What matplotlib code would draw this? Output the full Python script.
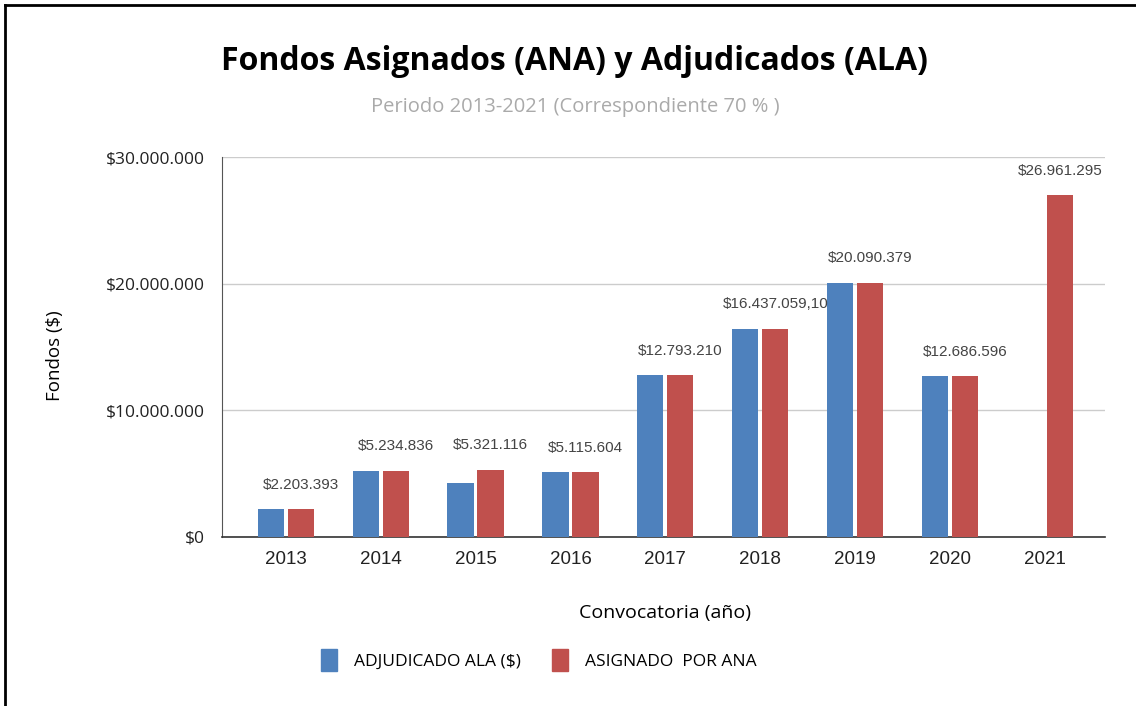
import numpy as np
import matplotlib.pyplot as plt
from matplotlib.patches import Patch

# Data
years = ["2013", "2014", "2015", "2016", "2017", "2018", "2019", "2020", "2021"]
adjudicado_ala = [2203393, 5234836, 4250000, 5115604, 12793210, 16437059.10, 20090379, 12686596, 0]
asignado_ana = [2203393, 5234836, 5321116, 5115604, 12793210, 16437059.10, 20090379, 12686596, 26961295]
value_labels = ["$2.203.393", "$5.234.836", "$5.321.116", "$5.115.604", "$12.793.210",
                "$16.437.059,10", "$20.090.379", "$12.686.596", "$26.961.295"]
yticks = [0, 10000000, 20000000, 30000000]
ytick_labels = ["$0", "$10.000.000", "$20.000.000", "$30.000.000"]

blue = "#4E81BD"
red = "#C0504D"

fig = plt.figure(figsize=(11.36, 7.06), dpi=100)
ax = fig.add_axes([222 / 1136, 1 - 537 / 706, (1105 - 222) / 1136, (537 - 157) / 706])

x = np.arange(len(years))
w = 0.275
off = 0.158
ax.bar(x - off, adjudicado_ala, width=w, color=blue, zorder=3)
ax.bar(x + off, asignado_ana, width=w, color=red, zorder=3)

for xi, v, lab in zip(x, asignado_ana, value_labels):
    ax.annotate(lab, (xi + off, v), xytext=(0, 17.5), textcoords="offset points",
                ha="center", va="center", fontsize=11, color="#444444",
                family="Liberation Sans")

ax.set_xlim(-0.67, 8.63)
ax.set_ylim(0, 30000000)
ax.set_yticks(yticks)
ax.set_yticklabels(ytick_labels, family="Open Sans", fontsize=12.5, color="#222222")
ax.set_xticks(x)
ax.set_xticklabels(years, family="Liberation Sans", fontsize=13.5, color="#222222")
ax.tick_params(axis="both", length=0)
ax.tick_params(axis="x", pad=10)
ax.tick_params(axis="y", pad=12)
ax.grid(axis="y", color="#cccccc", linewidth=1, zorder=0)
for s in ["top", "right"]:
    ax.spines[s].set_visible(False)
ax.spines["left"].set_color("#555555")
ax.spines["bottom"].set_color("#333333")
ax.spines["bottom"].set_linewidth(1.2)

fig.text(574 / 1136, 1 - 62 / 706, "Fondos Asignados (ANA) y Adjudicados (ALA)",
         ha="center", va="center", fontsize=23, fontweight="bold", family="Open Sans")
fig.text(575 / 1136, 1 - 107 / 706, "Periodo 2013-2021 (Correspondiente 70 % )",
         ha="center", va="center", fontsize=14.5, color="#aaaaaa", family="Open Sans")
fig.text(55 / 1136, 1 - 356 / 706, "Fondos ($)", rotation=90,
         ha="center", va="center", fontsize=13.5, family="Open Sans")
fig.text(665 / 1136, 1 - 613 / 706, "Convocatoria (año)",
         ha="center", va="center", fontsize=14, family="Open Sans")

handles = [Patch(color=blue, label="ADJUDICADO ALA ($)"),
           Patch(color=red, label="ASIGNADO  POR ANA")]
fig.legend(handles=handles, loc="center", bbox_to_anchor=(539 / 1136, 1 - 660 / 706),
           ncol=2, frameon=False, prop={"family": "Open Sans", "size": 12.5},
           handlelength=0.9, handleheight=1.5, columnspacing=1.8, handletextpad=1.0)

# border lines on top and left like the screenshot
fig.add_artist(plt.Line2D([5 / 1136, 1], [1 - 5 / 706, 1 - 5 / 706], color="black", linewidth=2))
fig.add_artist(plt.Line2D([5 / 1136, 5 / 1136], [0, 1 - 5 / 706], color="black", linewidth=2))

fig.savefig("out.png", dpi=100)
